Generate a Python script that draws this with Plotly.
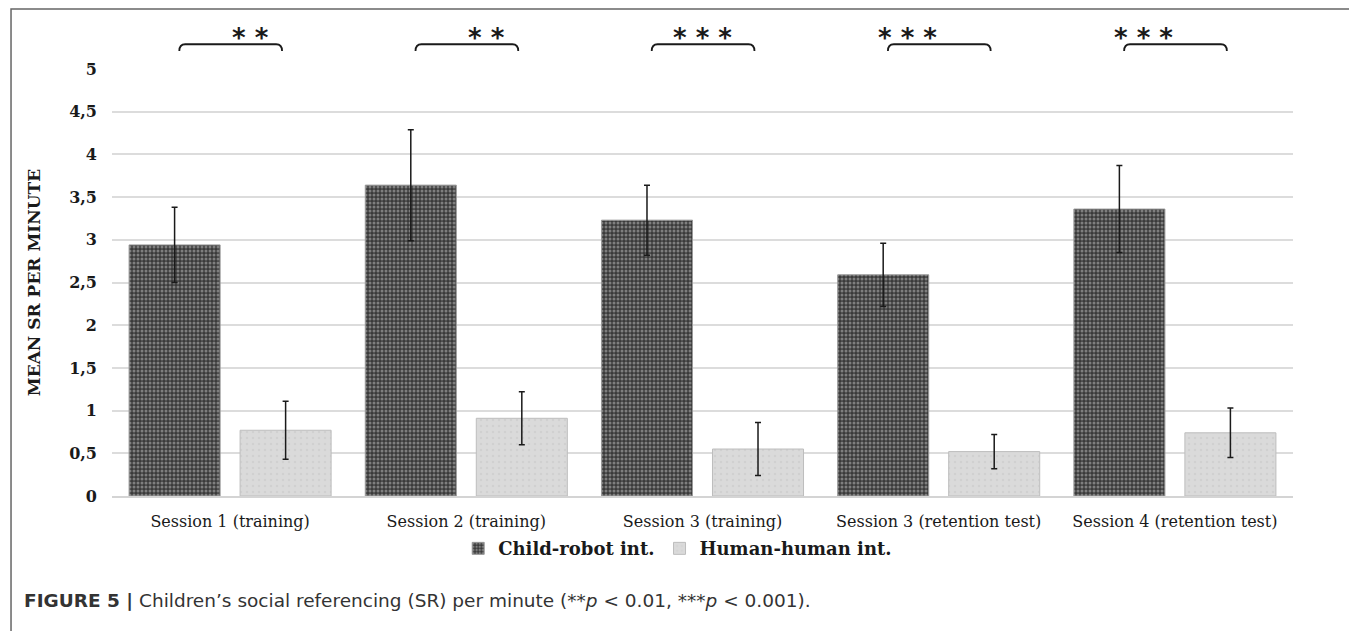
import plotly.graph_objects as go

categories = ["Session 1 (training)", "Session 2 (training)", "Session 3 (training)",
              "Session 3 (retention test)", "Session 4 (retention test)"]
robot_mean = [2.94, 3.64, 3.23, 2.59, 3.36]
robot_err = [0.44, 0.65, 0.41, 0.37, 0.51]
human_mean = [0.77, 0.91, 0.55, 0.52, 0.74]
human_err = [0.34, 0.31, 0.31, 0.20, 0.29]
signif = ["* *", "* *", "* * *", "* * *", "* * *"]
y_ticks = [0, 0.5, 1, 1.5, 2, 2.5, 3, 3.5, 4, 4.5, 5]

SERIF = "DejaVu Serif"

fig = go.Figure()
fig.add_trace(go.Bar(
    name="<b>Child-robot int.</b>", x=categories, y=robot_mean,
    error_y=dict(type="data", array=robot_err, color="#1a1a1a", thickness=1.5, width=3),
    marker=dict(color="#3d3d3d", line=dict(color="#9a9a9a", width=1),
                pattern=dict(shape=".", bgcolor="#3a3a3a", fgcolor="#c4c4c4",
                             size=4, solidity=0.45)),
))
fig.add_trace(go.Bar(
    name="<b>Human-human int.</b>", x=categories, y=human_mean,
    error_y=dict(type="data", array=human_err, color="#1a1a1a", thickness=1.5, width=3),
    marker=dict(color="#d9d9d9", line=dict(color="#bdbdbd", width=1),
                pattern=dict(shape=".", bgcolor="#dadada", fgcolor="#c6c6c6",
                             size=6, solidity=0.12)),
))

n = len(categories)
shapes = []
annotations = []
for i, s in enumerate(signif):
    xa = (i + 0.5 - 0.215) / n
    xb = (i + 0.5 + 0.22) / n
    d = 0.005
    y0 = 1.058
    y1 = 1.042
    path = (f"M {xa},{y1} Q {xa},{y0} {xa+d},{y0} L {xb-d},{y0} "
            f"Q {xb},{y0} {xb},{y1}")
    shapes.append(dict(type="path", path=path, xref="paper", yref="paper",
                       line=dict(color="#1a1a1a", width=1.8)))
    annotations.append(dict(x=(i + 0.5) / n, y=1.033, xref="paper", yref="paper",
                            text=f"<b>{s}</b>", showarrow=False, yanchor="bottom",
                            font=dict(family="DejaVu Sans", size=26, color="#1a1a1a")))

# outer frame
shapes.append(dict(type="rect", xref="paper", yref="paper", x0=-0.0855, x1=1.0483,
                   y0=-0.40, y1=1.1405, line=dict(color="#666666", width=1.5)))

annotations.append(dict(
    x=-0.076, y=-0.245, xref="paper", yref="paper", xanchor="left", yanchor="middle",
    showarrow=False,
    text=("<b>FIGURE 5 |</b> Children’s social referencing (SR) per minute "
          "(**<i>p</i> &lt; 0.01, ***<i>p</i> &lt; 0.001)."),
    font=dict(family="DejaVu Sans, sans-serif", size=18.5, color="#333333")))

fig.update_layout(
    width=1349, height=623,
    margin=dict(l=104, r=64, t=61, b=135),
    paper_bgcolor="white", plot_bgcolor="white",
    barmode="group", bargap=0.06, bargroupgap=0.18,
    separators=",.",
    shapes=shapes, annotations=annotations,
    legend=dict(orientation="h", x=0.479, xanchor="center", y=-0.08, yanchor="top",
                bgcolor="rgba(0,0,0,0)",
                font=dict(family=SERIF, size=18, color="#1a1a1a"),
                itemwidth=30, traceorder="normal"),
    font=dict(family=SERIF, color="#1a1a1a"),
)

fig.update_xaxes(showline=True, linecolor="#d4d4d4", linewidth=1.5, ticks="",
                 ticklabelstandoff=10,
                 tickfont=dict(family=SERIF, size=16, color="#1a1a1a"))
fig.update_yaxes(range=[0, 5], tickvals=y_ticks, showgrid=True, gridcolor="#dcdcdc",
                 gridwidth=1.5, zeroline=False, ticks="", ticklabelstandoff=14,
                 tickfont=dict(family=SERIF, size=16, color="#1a1a1a", weight="bold"),
                 title=dict(text="<b>MEAN SR PER MINUTE</b>", standoff=24,
                            font=dict(family=SERIF, size=17, color="#1a1a1a")))

fig.write_html("out.html")
